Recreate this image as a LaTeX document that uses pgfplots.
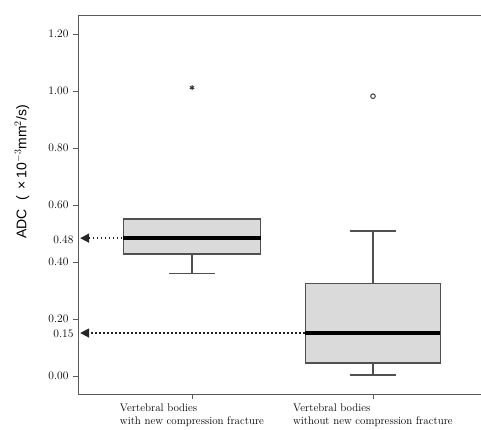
\documentclass[border=0pt]{standalone}
\usepackage{fontspec}
\usepackage{pgfplots}
\pgfplotsset{compat=1.18}
\usepgfplotslibrary{statistics}
\usetikzlibrary{arrows.meta}
\newfontfamily\labfont{Liberation Sans}
\definecolor{boxfill}{RGB}{218,218,218}
\definecolor{boxdraw}{RGB}{80,80,80}
\definecolor{axgray}{RGB}{90,90,90}
\begin{document}
\begin{tikzpicture}
\path[use as bounding box] (-78pt,-35pt) rectangle (403pt,394pt);
\begin{axis}[
  width=403pt, height=379pt, scale only axis,
  xmin=0.370, xmax=2.597,
  ymin=-0.063, ymax=1.267,
  axis x line*=bottom, axis y line*=left,
  axis line style={-, draw=axgray, line width=0.9pt},
  tick align=outside, tick pos=left,
  major tick length=5pt,
  tick style={draw=axgray, line width=0.7pt},
  xtick={1,2},
  xticklabels={{Vertebral bodies\\with new compression fracture},{Vertebral bodies\\without new compression fracture}},
  xticklabel style={align=left, font=\fontsize{11}{13}\selectfont, yshift=-1pt},
  ytick={0,0.2,0.4,0.6,0.8,1.0,1.2},
  yticklabels={0.00,0.20,0.40,0.60,0.80,1.00,1.20},
  extra y ticks={0.15,0.48},
  extra y tick style={major tick length=0pt},
  extra y tick labels={0.15,0.48},
  yticklabel style={font=\fontsize{11.5}{12}\selectfont, xshift=-1pt},
  ylabel={\labfont ADC\hspace{9pt}(\hspace{6pt}×\hspace{3pt}10$^{-3}$mm$^{2}$/s)},
  ylabel style={at={(axis description cs:-0.139,0.586)}, anchor=center, font=\fontsize{14}{15}\selectfont},
  boxplot/draw direction=y,
  boxplot/every median/.style={line width=4pt, draw=black},
  clip=false,
]
\addplot+[boxplot prepared={lower whisker=0.36, lower quartile=0.428, median=0.484, upper quartile=0.551, upper whisker=0.551, draw position=1, box extend=0.76, whisker extend=0.25},
  fill=boxfill, draw=boxdraw, line width=1.3pt, solid,
  mark=asterisk, mark size=2.5pt, mark options={draw=black!80, line width=1pt}]
  table[row sep=\\, y index=0]{data\\ 1.012\\};
\addplot+[boxplot prepared={lower whisker=0.004, lower quartile=0.046, median=0.151, upper quartile=0.326, upper whisker=0.509, draw position=2, box extend=0.746, whisker extend=0.25},
  fill=boxfill, draw=boxdraw, line width=1.3pt, solid,
  mark=o, mark size=2.3pt, mark options={draw=black!75, line width=1pt, fill=white}]
  table[row sep=\\, y index=0]{data\\ 0.982\\};
\draw[axgray, line width=0.9pt] (rel axis cs:0,1) -- (rel axis cs:1,1);
\draw[black!85, line width=1.7pt, dash pattern=on 1.7pt off 2.3pt, -{Triangle[length=9pt,width=9pt,sep=0pt]}] (axis cs:0.615,0.484) -- (axis cs:0.382,0.484);
\draw[black!85, line width=1.7pt, dash pattern=on 1.7pt off 2.3pt, -{Triangle[length=9pt,width=9pt,sep=0pt]}] (axis cs:1.622,0.151) -- (axis cs:0.382,0.151);
\end{axis}
\end{tikzpicture}
\end{document}
